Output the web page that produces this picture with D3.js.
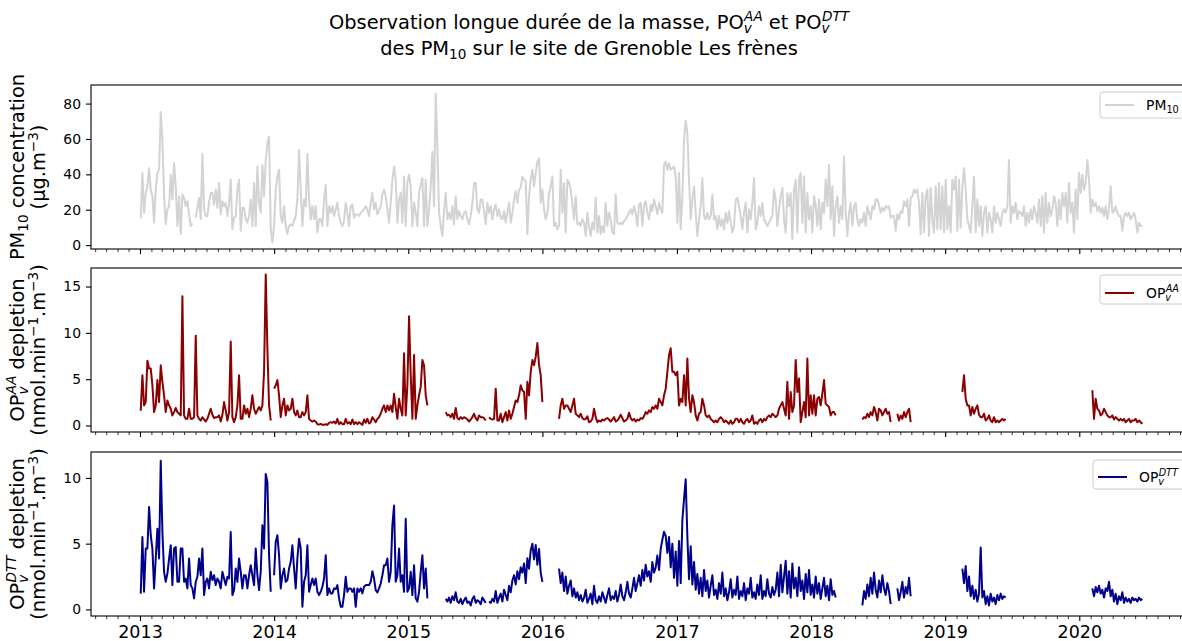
<!DOCTYPE html>
<html><head><meta charset="utf-8">
<script src="https://cdn.jsdelivr.net/npm/d3@7"></script>
<style>
body{margin:0;background:#fff;overflow:hidden}
svg{display:block}
text{font-family:"DejaVu Sans",sans-serif}
</style>
</head><body>
<svg id="chart" width="1182" height="641"></svg>
<script>
const _ = null;
// regular sampling of the series (one value every sampleStepDays days from sampleStart)
const sampleStart = "2013-01-03";
const sampleStepDays = 4.535;

const pm10 = [
/*0*/ 15,40.7,18.3,29.5,33.2,43.5,31.4,27.6,12.7,31.4,
/*10*/ 40.7,42.6,75.2,59.3,27.6,11.8,20.2,22,39.8,25.8,
/*20*/ 46.3,33.2,10.8,27.6,6.2,28.6,26.7,22,24.8,17.4,
/*30*/ 10.8,12.3,_,15.5,21.1,26.7,14.6,51.5,20.2,16.4,
/*40*/ 16.4,24.3,29.5,29.5,22.9,31.4,21.1,35.1,17.4,24.8,
/*50*/ 22,23.9,16.4,23.9,37,9,15.5,16.4,31.4,37,
/*60*/ 8.1,21.1,21.1,14.6,12.7,16.4,25.8,10.8,35.1,10.8,
/*70*/ 44.4,23.9,18.3,45.3,27.6,48.1,57.5,61.2,9,1.5,
/*80*/ 10.8,31.4,38.8,42.6,16.4,12.7,22,10.8,6.2,10.8,
/*90*/ 11.8,10.8,13.6,16.4,25.8,53.7,31.4,10.8,25.8,22,
/*100*/ 51.5,25.8,14.6,22,14.6,22,7.1,14.6,14.6,10.8,
/*110*/ 25.8,34.1,10.8,22,18.3,22,16.4,20.2,23.9,16.4,
/*120*/ 12.7,10.8,13.6,23.9,18.3,10.8,22,22.9,15.5,17.4,
/*130*/ 17.4,16.4,18.3,19.2,20.5,22,20.2,16.4,23.9,29.5,
/*140*/ 20.2,23.9,17.4,19.2,22,28.6,31.4,27.6,20.2,12.7,
/*150*/ 23.9,37,44.4,37,12.7,25.8,29.5,12.7,38.8,10.8,
/*160*/ 35.1,39.8,33.2,10.8,23.9,18.3,10.8,29.5,34.1,37.9,
/*170*/ 10.8,37,10.8,19.2,33.2,52.8,22,85.4,55.6,18.3,
/*180*/ 10.8,5.2,19.2,29.5,14.6,18.3,14.6,22,11.8,27.6,
/*190*/ 14.6,19.2,16.4,14.6,18.3,19.2,14.6,11.8,16.4,23.9,
/*200*/ 35.1,35.1,20.2,18.3,25.8,25.8,19.2,11.8,23.9,18.3,
/*210*/ 22,14.6,20.2,22.9,16.4,20.2,15.5,14.6,19.2,12.7,
/*220*/ 18.3,23.9,12.7,18.3,25.8,30.4,23.9,31.4,32.3,38.8,
/*230*/ 37,36,6.2,27.6,37,42.6,33.2,40.7,47.2,49.1,
/*240*/ 23.9,31.4,20.2,14.6,18.3,29.5,33.2,38.8,10.8,12.7,
/*250*/ 9,10.8,42.6,18.3,35.1,7.1,37,35.1,31.4,23.9,
/*260*/ 14.6,27.6,11.8,12.7,10.8,14.6,12.7,5.2,18.3,10.8,
/*270*/ 5.2,12.7,9,26.7,7.1,16.4,6.2,10.8,7.1,23.9,
/*280*/ 10.8,18.3,14.6,7.1,6.2,28.6,12.7,11.8,12.7,11.8,
/*290*/ 13.6,14.6,16.4,18.3,20.2,17.4,22,18.3,10.8,22.9,
/*300*/ 23.9,10.8,22.9,24.8,18.3,14.6,22.9,19.2,25.8,22,
/*310*/ 17.4,23.9,20.2,18.3,45.3,47.2,42.6,46.3,42.6,43.5,
/*320*/ 44.4,38.8,12.7,40.7,9,27.6,59.3,70.5,63,37,
/*330*/ 14.6,25.8,33.2,18.3,5.2,14.6,22,37.9,16.4,14.6,
/*340*/ 18.3,14.6,16.4,28.6,14.6,16.4,9,16.4,10.8,14.6,
/*350*/ 9,18.3,12.7,19.2,12.7,7.1,10.8,25.8,26.7,22,
/*360*/ 16.4,9,18.3,23.9,7.1,20.2,14.6,23.9,37.9,9,
/*370*/ 12.7,22,16.4,23.9,14.6,12.7,10.8,12.7,14.6,16.4,
/*380*/ 31.4,25.8,10.8,20.2,27.6,32.3,14.6,7.1,29.5,22,
/*390*/ 29.5,3.4,31.4,37,7.1,37,40.7,12.7,38.8,7.1,
/*400*/ 29.5,14.6,22,7.1,27.6,22,10.8,25.8,9,23.9,
/*410*/ 18.3,37,22,45.3,14.6,33.2,5.2,22,27.6,12.7,
/*420*/ 22,14.6,50,18.3,5.2,18.3,23.9,10.8,22,23.9,
/*430*/ 14.6,10.8,14.6,12.7,18.3,10.8,22,18.3,14.6,22,
/*440*/ 20.2,25.8,25.8,22.9,18.3,21.1,19.2,22,21.1,22,
/*450*/ 15.5,16.4,16.4,8.1,17.4,14.6,19.2,18.3,24.8,22,
/*460*/ 25.8,10.8,26.7,27.6,31.4,29.5,31.4,23.9,6.2,29.5,
/*470*/ 7.1,27.6,31.4,5.2,32.3,14.6,7.1,33.2,9,35.1,
/*480*/ 9,33.2,7.1,37,9,22,7.1,37,31.4,38.8,
/*490*/ 8.1,37,9.9,33.2,43.5,31.4,14.6,10.8,7.1,22,
/*500*/ 38.8,7.1,25.8,10.8,22,5.2,18.3,22,7.1,18.3,
/*510*/ 14.6,7.1,22,12.7,18.3,14.6,10.8,18.3,20.2,18.3,
/*520*/ 22,48.1,12.7,22,18.3,23.9,14.6,19.2,18.3,16.4,
/*530*/ 22,10.8,18.3,12.7,20.2,14.6,22,18.3,12.7,25.8,
/*540*/ 10.8,27.6,7.1,29.5,12.7,23.9,16.4,20.2,27.6,23.9,
/*550*/ 10.8,25.8,14.6,29.5,22,29.5,12.7,35.1,18.3,23.9,
/*560*/ 7.1,31.4,14.6,40.7,29.5,39.8,31.4,35.1,48.1,37,
/*570*/ 18.3,25.8,22,23.9,19.2,22,18.3,21.1,16.4,22,
/*580*/ 14.6,21.1,33.2,18.3,19.2,22,18.3,16.4,16.4,8.1,
/*590*/ 16.4,18.3,16.4,18.3,14.6,16.4,18.3,14.6,7.1,12.7,
/*600*/ 10.8,10.8
];

const opAA = [
/*0*/ 1.6,5.43,2.17,2.53,7.0,6.16,6.16,4.35,1.45,2.17,
/*10*/ 4.9,2.53,6.5,4.71,3.26,1.45,2.7,2.17,1.81,1.09,
/*20*/ 1.45,1.9,1.45,1.27,1.09,13.95,1.09,0.72,0.72,1.81,
/*30*/ 0.72,0.72,0.9,9.7,1.09,0.72,0.54,0.9,0.65,0.43,
/*40*/ 0.72,1.27,1.81,1.16,0.8,0.9,0.9,1.09,0.43,1.16,
/*50*/ 2.53,1.63,0.54,1.45,9.06,0.9,0.36,0.9,2.17,5.43,
/*60*/ 0.72,0.72,2.17,1.27,1.81,0.9,1.81,3.26,1.81,1.27,
/*70*/ 1.63,2.0,1.63,2.17,5.8,16.3,8.33,2.17,0.54,_,
/*80*/ 3.98,4.35,4.9,3.26,0.9,2.17,2.9,1.09,2.17,1.63,
/*90*/ 1.81,2.9,1.45,1.09,1.63,0.9,0.9,1.45,1.09,1.45,
/*100*/ 3.26,0.72,0.54,0.43,0.54,0.43,0.14,0.1,0.18,0.07,
/*110*/ 0.07,0.14,0.07,0.29,0.36,0.29,0.43,0.22,0.72,0.14,
/*120*/ 0.36,0.14,0.14,0.72,0.22,0.36,0.14,0.65,0.14,0.36,
/*130*/ 0.14,0.36,0.22,0.07,0.65,0.29,0.72,0.22,0.36,0.9,
/*140*/ 0.65,0.36,0.72,0.9,1.27,1.81,2.17,1.45,2.17,1.63,
/*150*/ 2.17,1.45,3.44,2.0,0.72,2.9,1.81,1.09,7.8,1.09,
/*160*/ 4.35,11.8,5.43,0.72,7.6,0.72,2.17,3.26,4.17,7.06,
/*170*/ 6.5,3.26,2.17,_,_,_,_,_,_,_,
/*180*/ _,_,_,1.45,1.09,1.16,0.9,1.27,0.72,1.9,
/*190*/ 0.8,0.65,0.9,0.72,0.9,0.8,0.65,0.43,0.65,0.9,
/*200*/ 1.27,0.8,0.54,1.09,0.9,0.9,0.8,0.54,_,0.9,
/*210*/ 0.72,0.65,0.72,3.98,0.54,0.54,1.27,0.36,0.9,1.45,
/*220*/ 0.54,1.63,0.72,1.27,2.0,2.7,2.53,3.26,4.35,3.8,
/*230*/ 3.62,0.72,4.71,3.26,5.8,7.06,6.5,7.43,8.9,6.5,
/*240*/ 5.43,2.53,_,_,_,_,_,_,_,_,
/*250*/ _,0.72,2.17,2.9,1.81,2.17,2.17,1.81,1.45,2.17,
/*260*/ 2.9,1.27,1.09,0.9,1.27,0.8,0.65,0.72,1.0,0.36,
/*270*/ 0.43,0.72,1.81,0.9,0.36,0.54,0.43,0.65,0.54,0.72,
/*280*/ 0.8,0.65,0.43,0.65,0.9,0.43,0.54,0.8,1.16,0.8,
/*290*/ 0.43,0.54,0.72,1.38,0.8,0.54,0.72,0.43,0.65,0.54,
/*300*/ 0.8,0.72,1.0,1.45,1.27,1.63,1.45,2.0,1.81,2.17,
/*310*/ 1.81,2.9,2.53,2.17,3.26,3.98,5.8,7.6,8.33,5.8,
/*320*/ 5.8,5.43,5.8,2.17,2.9,2.53,5.43,2.17,7.24,2.9,
/*330*/ 1.45,3.26,2.53,1.09,0.54,1.27,1.45,2.9,2.17,1.09,
/*340*/ 0.9,1.09,0.72,0.54,0.36,0.54,0.36,0.72,0.9,0.72,
/*350*/ 0.36,0.54,0.36,0.18,0.54,0.18,0.36,0.72,0.72,0.36,
/*360*/ 0.72,0.36,0.18,0.54,0.72,0.36,0.54,1.09,0.18,0.36,
/*370*/ 0.18,0.54,0.72,0.36,0.72,0.54,0.9,1.09,0.9,1.27,
/*380*/ 1.09,0.9,1.09,1.81,2.17,2.53,1.81,1.09,4.71,0.72,
/*390*/ 3.62,1.45,2.17,7.06,3.62,5.07,0.36,1.45,2.53,0.9,
/*400*/ 7.24,1.09,3.26,1.27,3.26,1.09,2.9,3.08,2.17,3.44,
/*410*/ 4.9,2.35,2.17,2.0,1.09,1.45,1.45,1.09,_,_,
/*420*/ _,_,_,_,_,_,_,_,_,_,
/*430*/ _,_,_,0.65,0.9,0.8,1.27,0.9,1.45,1.09,
/*440*/ 2.0,1.45,0.54,1.81,1.63,1.09,1.45,1.81,1.27,1.45,
/*450*/ 0.36,_,_,_,1.27,0.54,1.09,0.72,1.45,0.9,
/*460*/ 1.45,1.81,0.36,_,_,_,_,_,_,_,
/*470*/ _,_,_,_,_,_,_,_,_,_,
/*480*/ _,_,_,_,_,_,_,_,_,_,
/*490*/ _,_,_,3.62,5.43,2.9,2.17,2.17,1.09,2.0,
/*500*/ 1.27,1.81,2.17,1.16,0.9,0.9,1.27,0.54,0.72,1.09,
/*510*/ 0.54,0.36,0.9,0.36,0.54,0.36,0.54,0.72,0.54,0.72,
/*520*/ _,_,_,_,_,_,_,_,_,_,
/*530*/ _,_,_,_,_,_,_,_,_,_,
/*540*/ _,_,_,_,_,_,_,_,_,_,
/*550*/ _,_,_,_,_,_,_,_,_,_,
/*560*/ _,_,_,_,_,_,_,_,_,_,
/*570*/ _,3.8,0.72,2.9,1.81,1.63,1.09,1.27,1.81,1.45,
/*580*/ 1.09,0.9,0.9,1.09,0.65,0.9,0.72,0.54,0.72,0.54,
/*590*/ 0.72,0.36,0.54,0.72,0.36,0.54,0.54,0.72,0.36,0.54,
/*600*/ 0.36,0.18
];

const opDTT = [
/*0*/ 1.2,5.5,1.34,4.63,4.63,7.78,5.64,4.63,1.6,3.87,
/*10*/ 6.14,3.87,11.3,5.89,2.86,2.1,2.73,3.87,4.88,1.85,
/*20*/ 4.63,4.75,2.1,2.1,4.63,4.63,2.1,2.35,1.6,3.87,
/*30*/ 1.85,1.6,0.84,2.1,2.48,3.87,2.6,4.63,1.09,2.1,
/*40*/ 2.35,1.6,2.86,2.23,2.6,1.85,2.35,2.1,1.6,2.86,
/*50*/ 2.35,1.85,2.48,2.35,5.89,1.09,1.47,3.11,2.1,3.87,
/*60*/ 2.86,1.6,2.6,2.6,1.6,2.6,3.36,2.6,1.85,4.63,
/*70*/ 2.6,1.47,2.86,6.4,4.63,10.3,9.67,4.12,1.34,_,
/*80*/ 2.6,5.13,5.64,4.12,1.6,2.6,3.11,2.1,2.23,3.11,
/*90*/ 3.62,4.88,3.11,1.6,3.87,5.38,4.63,0.2,2.1,2.6,
/*100*/ 4.88,1.34,1.85,2.35,1.85,2.35,1.34,1.09,1.34,1.72,
/*110*/ 2.35,4.12,1.09,1.6,1.22,1.22,1.6,1.55,1.85,0.84,
/*120*/ 0.2,0.2,1.09,2.48,1.34,1.6,1.6,1.34,1.6,0.2,
/*130*/ 1.6,1.34,1.6,1.22,1.72,1.85,1.85,1.85,2.1,2.9,
/*140*/ 2.35,1.47,1.29,1.6,1.97,2.6,3.36,3.36,3.87,2.1,
/*150*/ 2.86,6.4,7.9,2.1,2.6,4.63,2.1,2.6,1.34,6.9,
/*160*/ 1.34,1.6,2.86,1.09,3.36,0.84,0.59,1.34,2.86,4.12,
/*170*/ 1.6,3.11,0.84,_,_,_,_,_,_,_,
/*180*/ _,_,_,0.8,0.6,0.9,0.5,1.0,0.7,1.3,
/*190*/ 0.6,0.5,0.8,0.4,0.7,0.9,0.5,0.6,0.3,0.8,
/*200*/ 1.0,0.5,0.7,0.6,0.4,0.9,0.7,0.5,_,0.6,
/*210*/ 0.5,0.8,0.6,1.4,0.5,0.9,1.2,0.6,1.5,1.1,
/*220*/ 0.7,1.8,1.3,2.2,2.6,1.9,2.9,2.3,3.2,2.8,
/*230*/ 3.5,2.0,3.9,3.1,4.5,5.0,3.8,4.9,3.4,4.6,
/*240*/ 2.8,2.1,_,_,_,_,_,_,_,_,
/*250*/ _,3.1,2.0,2.8,1.4,2.5,1.2,1.8,2.2,1.0,
/*260*/ 1.6,0.9,1.3,0.7,1.1,0.6,0.9,1.5,0.5,0.8,
/*270*/ 1.2,0.4,1.8,0.7,0.5,1.0,0.6,1.3,0.9,0.5,
/*280*/ 1.1,1.6,0.7,1.0,0.8,1.4,0.6,1.1,1.9,1.0,
/*290*/ 0.7,1.3,2.1,1.2,0.9,1.6,2.4,1.4,2.0,2.6,
/*300*/ 1.8,3.0,2.2,3.4,2.5,2.9,2.1,3.6,2.8,3.2,
/*310*/ 4.1,3.0,4.6,5.3,5.9,5.6,4.3,5.5,3.2,5.0,
/*320*/ 2.4,4.4,1.8,5.2,2.0,6.8,8.4,9.9,5.5,2.3,
/*330*/ 4.8,1.9,3.6,1.5,2.7,1.2,2.4,1.0,3.0,1.4,
/*340*/ 2.2,0.9,1.8,2.6,1.1,1.5,0.8,2.0,1.2,2.8,
/*350*/ 1.0,1.6,0.7,1.3,2.3,0.9,1.5,1.1,2.5,0.8,
/*360*/ 1.4,1.0,2.0,0.7,1.6,1.2,2.4,0.9,1.3,0.8,
/*370*/ 1.9,1.1,2.6,0.8,1.4,1.0,2.3,1.2,0.9,1.7,
/*380*/ 1.1,1.5,2.8,1.0,3.4,1.3,2.5,3.7,1.2,2.9,
/*390*/ 0.9,3.5,1.6,2.4,1.0,3.2,1.4,2.2,0.8,2.7,
/*400*/ 1.3,3.0,1.1,1.9,0.9,2.5,1.2,2.0,0.8,1.6,
/*410*/ 2.4,1.0,1.8,0.7,2.3,1.1,1.4,0.9,_,_,
/*420*/ _,_,_,_,_,_,_,_,_,_,
/*430*/ _,_,_,0.3,1.4,0.8,1.9,1.0,2.4,1.2,
/*440*/ 2.8,1.5,0.9,2.2,1.3,2.6,1.6,1.1,2.0,1.4,
/*450*/ 0.4,_,_,_,1.6,0.7,1.3,2.1,0.9,1.7,
/*460*/ 1.2,2.4,1.0,_,_,_,_,_,_,_,
/*470*/ _,_,_,_,_,_,_,_,_,_,
/*480*/ _,_,_,_,_,_,_,_,_,_,
/*490*/ _,_,_,3.1,2.0,3.3,1.4,2.5,1.0,1.8,
/*500*/ 0.8,1.5,0.6,1.2,4.7,0.9,1.4,0.4,1.0,0.3,
/*510*/ 1.2,0.6,0.9,0.4,1.1,0.7,1.2,0.8,1.0,0.9,
/*520*/ _,_,_,_,_,_,_,_,_,_,
/*530*/ _,_,_,_,_,_,_,_,_,_,
/*540*/ _,_,_,_,_,_,_,_,_,_,
/*550*/ _,_,_,_,_,_,_,_,_,_,
/*560*/ _,_,_,_,_,_,_,_,_,_,
/*570*/ _,1.6,1.0,1.7,1.3,1.8,1.2,1.5,0.9,1.6,
/*580*/ 1.4,2.1,1.0,1.5,0.6,1.2,0.4,1.0,0.7,1.3,
/*590*/ 0.5,0.9,0.6,0.8,0.5,0.9,0.7,0.8,0.6,0.9,
/*600*/ 0.7,0.8
];

const yearTicks = [2013, 2014, 2015, 2016, 2017, 2018, 2019, 2020];
const pm10Ticks = [0, 20, 40, 60, 80];
const aaTicks = [0, 5, 10, 15];
const dttTicks = [0, 5, 10];

// ---------------- layout ----------------
const FONT = '"DejaVu Sans", sans-serif';
const svg = d3.select('#chart');
const xLeft = 91, xRight = 1194;
const ref = d3.scaleTime()
  .domain([new Date(2013, 0, 1), new Date(2020, 0, 1)])
  .range([140, 1079.3]);
const x = d3.scaleTime().domain([ref.invert(xLeft), ref.invert(xRight)]).range([xLeft, xRight]);

const start = d3.timeParse("%Y-%m-%d")(sampleStart);
const dateAt = i => new Date(start.getTime() + i * sampleStepDays * 864e5);

function rich(textSel, parts, fs) {
  let cur = 0;
  parts.forEach(p => {
    if (typeof p === 'string') {
      textSel.append('tspan').text(p).attr('dy', -cur);
      cur = 0;
    } else if (p.sub !== undefined && p.sup !== undefined) {
      const s = fs * 0.7;
      textSel.append('tspan').text(p.sub).attr('font-size', s)
        .attr('font-style', 'italic').attr('dy', fs * 0.22 - cur);
      cur = fs * 0.22;
      textSel.append('tspan').text(p.sup).attr('font-size', s)
        .attr('font-style', 'italic').attr('dx', -s * 0.56).attr('dy', -fs * 0.42 - cur);
      cur = -fs * 0.42;
    } else if (p.sub !== undefined) {
      textSel.append('tspan').text(p.sub).attr('font-size', fs * 0.7).attr('dy', fs * 0.2 - cur);
      cur = fs * 0.2;
    } else if (p.sup !== undefined) {
      textSel.append('tspan').text(p.sup).attr('font-size', fs * 0.7).attr('dy', -fs * 0.38 - cur);
      cur = -fs * 0.38;
    }
  });
}

// title
const t1 = svg.append('text').attr('x', 589).attr('y', 29).attr('text-anchor', 'middle')
  .attr('font-size', 19.4).attr('font-family', FONT).attr('fill', '#000');
rich(t1, ["Observation longue durée de la masse, PO", {sub: 'v', sup: 'AA'}, " et PO", {sub: 'v', sup: 'DTT'}], 19.4);
const t2 = svg.append('text').attr('x', 589).attr('y', 55).attr('text-anchor', 'middle')
  .attr('font-size', 19.4).attr('font-family', FONT).attr('fill', '#000');
rich(t2, ["des PM", {sub: '10'}, " sur le site de Grenoble Les frènes"], 19.4);

const unitParts = ["(nmol.min", {sup: '\u22121'}, ".m", {sup: '\u22123'}, ")"];
const panels = [
  {top: 85, bottom: 249, domain: [-2.2, 90.5], values: pm10, color: '#d3d3d3', ticks: pm10Ticks,
   label1: ["PM", {sub: '10'}, " concentration"], label2: ["(µg.m", {sup: '\u22123'}, ")"],
   legend: {left: 1100, top: 92, h: 26, hy: 105, ty: 110}, legendText: ["PM", {sub: '10'}]},
  {top: 268, bottom: 432, domain: [-0.7, 17.0], values: opAA, color: '#8b0000', ticks: aaTicks,
   label1: ["OP", {sub: 'v', sup: 'AA'}, " depletion"], label2: unitParts,
   legend: {left: 1100, top: 275, h: 29, hy: 293, ty: 298}, legendText: ["OP", {sub: 'v', sup: 'AA'}]},
  {top: 452, bottom: 616, domain: [-0.5, 11.97], values: opDTT, color: '#00008b', ticks: dttTicks,
   label1: ["OP", {sub: 'v', sup: 'DTT'}, " depletion"], label2: unitParts,
   legend: {left: 1093, top: 460, h: 29, hy: 477, ty: 482}, legendText: ["OP", {sub: 'v', sup: 'DTT'}]}
];

const yearDates = yearTicks.map(yv => new Date(yv, 0, 1));
const monthDates = d3.timeMonth.range(x.domain()[0], x.domain()[1]).filter(d => d.getMonth() !== 0);

panels.forEach((p, k) => {
  const y = d3.scaleLinear().domain(p.domain).range([p.bottom, p.top]);
  const g = svg.append('g');
  const data = p.values.map((v, i) => ({date: dateAt(i), v}));
  const line = d3.line().defined(d => d.v !== null).x(d => x(d.date)).y(d => y(d.v));
  g.append('path').datum(data).attr('d', line).attr('fill', 'none')
    .attr('stroke', p.color).attr('stroke-width', 2).attr('stroke-linejoin', 'round');

  // frame
  g.append('rect').attr('x', xLeft).attr('y', p.top).attr('width', xRight - xLeft).attr('height', p.bottom - p.top)
    .attr('fill', 'none').attr('stroke', '#000').attr('stroke-width', 1.1);

  // y axis
  const ya = g.append('g').attr('transform', `translate(${xLeft},0)`)
    .call(d3.axisLeft(y).tickValues(p.ticks).tickSize(5).tickPadding(5).tickFormat(d3.format('d')));
  ya.select('.domain').remove();
  ya.attr('font-family', FONT).attr('font-size', 13.9);
  ya.selectAll('text').attr('fill', '#000');
  ya.selectAll('line').attr('stroke', '#000').attr('stroke-width', 1.1);

  // x axis major
  const xa = g.append('g').attr('transform', `translate(0,${p.bottom})`)
    .call(d3.axisBottom(x).tickValues(yearDates).tickSize(5).tickPadding(5)
      .tickFormat(k === 2 ? d3.timeFormat('%Y') : () => ''));
  xa.select('.domain').remove();
  xa.attr('font-family', FONT).attr('font-size', 17.5);
  xa.selectAll('text').attr('fill', '#000');
  if (k !== 2) xa.selectAll('text').remove();
  xa.selectAll('line').attr('stroke', '#000').attr('stroke-width', 1.1);
  // minor (monthly)
  const xm = g.append('g').attr('transform', `translate(0,${p.bottom})`)
    .call(d3.axisBottom(x).tickValues(monthDates).tickSize(3).tickFormat(() => ''));
  xm.select('.domain').remove();
  xm.selectAll('text').remove();
  xm.selectAll('line').attr('stroke', '#000').attr('stroke-width', 0.8);

  // y label (two lines)
  const cy = (p.top + p.bottom) / 2;
  const l1 = svg.append('text').attr('transform', `translate(24,${cy}) rotate(-90)`).attr('text-anchor', 'middle')
    .attr('font-size', 19.4).attr('font-family', FONT).attr('fill', '#000');
  rich(l1, p.label1, 19.4);
  const l2 = svg.append('text').attr('transform', `translate(45,${cy}) rotate(-90)`).attr('text-anchor', 'middle')
    .attr('font-size', 19.4).attr('font-family', FONT).attr('fill', '#000');
  rich(l2, p.label2, 19.4);

  // legend
  const L = p.legend;
  g.append('rect').attr('x', L.left).attr('y', L.top).attr('width', 1187 - L.left).attr('height', L.h)
    .attr('rx', 3).attr('fill', '#fff').attr('fill-opacity', 0.8).attr('stroke', '#cccccc').attr('stroke-width', 1);
  g.append('line').attr('x1', L.left + 5).attr('x2', L.left + 34).attr('y1', L.hy).attr('y2', L.hy)
    .attr('stroke', p.color).attr('stroke-width', 2);
  const lt = g.append('text').attr('x', L.left + 46).attr('y', L.ty).attr('font-size', 13.9)
    .attr('font-family', FONT).attr('fill', '#000');
  rich(lt, p.legendText, 13.9);
});
</script>
</body></html>
